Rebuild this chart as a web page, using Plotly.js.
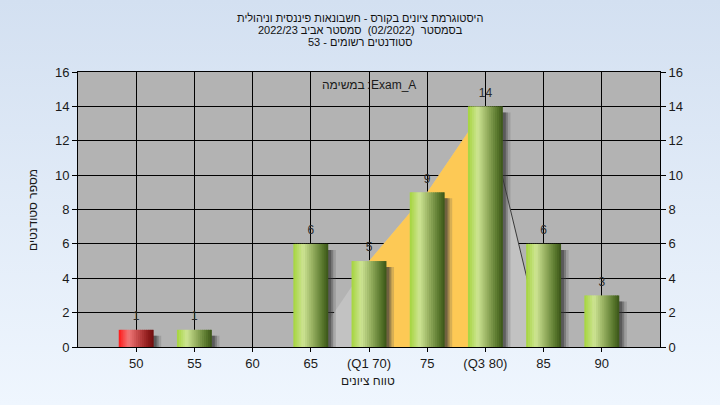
<!DOCTYPE html>
<html><head><meta charset="utf-8">
<script src="https://cdn.plot.ly/plotly-3.0.1.min.js"></script>
<style>
html,body{margin:0;padding:0;}
body{width:720px;height:405px;background:linear-gradient(#d3e0f1,#eff6fe);overflow:hidden;}
#chart{width:720px;height:405px;}
</style></head><body><div id="chart"></div>
<script>
// ---- data ----
const categories = ['50','55','60','65','70','75','80','85','90'];
const tickLabels = ['50','55','60','65','(Q1 70)','75','(Q3 80)','85','90'];
const counts = [1,1,0,6,5,9,14,6,3];
const quartileArea = [0,0,0,0,5,9,14,0,0];
const q1Index = 4, q3Index = 6;
const failing = [true,false,false,false,false,false,false,false,false];
const titleLines = [
  'היסטוגרמת ציונים בקורס - חשבונאות פיננסית וניהולית',
  'בסמסטר\u00A0 (02/2022)\u00A0 סמסטר אביב 2022/23',
  'סטודנטים רשומים - 53'
];
const taskWord = 'במשימה';
const taskName = 'Exam_A';
const xTitle = 'טווח ציונים';
const yTitle = 'מספר סטודנטים';

// ---- helpers ----
function lerp(stops, t){
  for (let k=0;k<stops.length-1;k++){
    const [t0,c0]=stops[k],[t1,c1]=stops[k+1];
    if (t>=t0 && t<=t1){
      const f=(t-t0)/(t1-t0);
      const c=c0.map((v,i)=>Math.round(v+(c1[i]-v)*f));
      return 'rgb('+c.join(',')+')';
    }
  }
  return 'rgb('+stops[stops.length-1][1].join(',')+')';
}
const greenStops=[[0,[164,212,60]],[0.28,[206,229,148]],[0.55,[150,176,96]],[0.85,[86,116,42]],[1,[58,84,24]]];
const redStops=[[0,[255,22,22]],[0.28,[240,122,122]],[0.55,[196,72,72]],[0.85,[140,26,26]],[1,[108,14,14]]];

const FAM='Liberation Sans, Arial, sans-serif';
const PL=78, PW=582, PB=347, PH=275;
const px2x = p => (p-PL)/PW, px2y = p => (PB-p)/PH;

const idx = categories.map((c,i)=>i);
const traces = [];

// area behind bars (main subplot)
const aFrom=q1Index-1, aTo=q3Index+1;
const ax=[], ay=[];
for(let i=aFrom;i<=aTo;i++){ax.push(i);ay.push(quartileArea[i]);}
traces.push({type:'scatter',x:ax,y:ay,fill:'tozeroy',fillcolor:'#c2c2c2',mode:'lines',line:{width:0},hoverinfo:'skip',xaxis:'x',yaxis:'y'});
const yx=[],yy=[];
for(let i=q1Index;i<=q3Index;i++){yx.push(i);yy.push(quartileArea[i]);}
traces.push({type:'scatter',x:yx,y:yy,fill:'tozeroy',fillcolor:'#fdc955',mode:'lines',line:{width:0},hoverinfo:'skip',xaxis:'x',yaxis:'y'});
traces.push({type:'scatter',x:[q3Index,q3Index+1],y:[quartileArea[q3Index],quartileArea[q3Index+1]],mode:'lines',line:{width:1,color:'#3a3a3a'},hoverinfo:'skip',xaxis:'x',yaxis:'y'});

// bar shadows
const BW=0.6;
[[0.13,'rgba(80,80,80,0.22)'],[0.085,'rgba(60,60,60,0.35)'],[0.05,'rgba(50,50,50,0.45)']].forEach(([sh,col])=>{
  traces.push({type:'bar',x:idx,y:counts.map(v=>v>0?v-0.1:0),base:-0.25,offset:-BW/2+sh,width:BW,
    marker:{color:col,line:{width:0}},hoverinfo:'skip',xaxis:'x',yaxis:'y2'});
});

// gradient bars as stripes
const N=18, w=BW/N;
for(let i=0;i<N;i++){
  const t=(i+0.5)/N;
  traces.push({type:'bar',x:idx,y:counts,offset:-BW/2+i*w,width:(i<N-1?w+0.012:w),
    marker:{color:failing.map(f=>f?lerp(redStops,t):lerp(greenStops,t)),line:{width:0}},
    hoverinfo:'skip',xaxis:'x',yaxis:'y2'});
}

// value labels
traces.push({type:'scatter',mode:'markers+text',x:idx,y:counts,text:counts.map(v=>v>0?String(v):''),
  marker:{size:9,opacity:0},
  textposition:'top center',textfont:{family:FAM,size:12,color:'#2a2a2a'},
  hoverinfo:'skip',xaxis:'x',yaxis:'y2'});

const tickFont={family:FAM,size:13,color:'#1a1a1a'};
const lblFont={family:FAM,size:12,color:'#1a1a1a'};
const titleFont={family:FAM,size:11,color:'#111'};
const annotations=[];
const tYpx=[17.7,30,42];
titleLines.forEach((s,i)=>annotations.push({xref:'paper',yref:'paper',x:px2x(360),y:px2y(tYpx[i]),text:s,showarrow:false,
  xanchor:'center',yanchor:'middle',borderpad:0,font:titleFont}));
// task label: Hebrew word, colon, exam name (left to right)
annotations.push({xref:'paper',yref:'paper',x:px2x(365),y:px2y(85),text:taskWord,showarrow:false,xanchor:'right',yanchor:'middle',borderpad:0,borderwidth:0,font:lblFont});
annotations.push({xref:'paper',yref:'paper',x:px2x(368),y:px2y(85),text:':',showarrow:false,xanchor:'center',yanchor:'middle',borderpad:0,borderwidth:0,font:lblFont});
annotations.push({xref:'paper',yref:'paper',x:px2x(371),y:px2y(85),text:taskName,showarrow:false,xanchor:'left',yanchor:'middle',borderpad:0,borderwidth:0,font:lblFont});
annotations.push({xref:'paper',yref:'paper',x:px2x(368),y:px2y(381),text:xTitle,showarrow:false,xanchor:'center',yanchor:'middle',font:lblFont});
annotations.push({xref:'paper',yref:'paper',x:px2x(33),y:px2y(210),text:yTitle,textangle:-90,showarrow:false,xanchor:'center',yanchor:'middle',font:lblFont});

const layout={
  width:720,height:405,
  margin:{l:78,r:60,t:72,b:58,pad:0},
  paper_bgcolor:'rgba(0,0,0,0)',plot_bgcolor:'#b3b3b3',
  showlegend:false,hovermode:false,barmode:'overlay',
  xaxis:{range:[-1,9],tickmode:'array',tickvals:idx,ticktext:tickLabels,showgrid:true,gridcolor:'#000',gridwidth:1,
    showline:true,linecolor:'#000',linewidth:1,mirror:true,ticks:'outside',ticklen:4,tickcolor:'#000',zeroline:false,
    tickfont:tickFont,fixedrange:true},
  yaxis:{range:[0,16],dtick:2,tick0:0,showgrid:true,gridcolor:'#000',gridwidth:1,showline:true,linecolor:'#000',linewidth:1,
    ticks:'outside',ticklen:5,tickcolor:'#000',zeroline:false,tickfont:tickFont,fixedrange:true},
  yaxis2:{range:[0,16],dtick:2,tick0:0,overlaying:'y',side:'right',showgrid:false,showline:true,linecolor:'#000',linewidth:1,
    ticks:'outside',ticklen:5,tickcolor:'#000',zeroline:false,tickfont:tickFont,fixedrange:true},
  annotations:annotations
};
Plotly.newPlot('chart',traces,layout,{displayModeBar:false,staticPlot:true});
</script></body></html>
